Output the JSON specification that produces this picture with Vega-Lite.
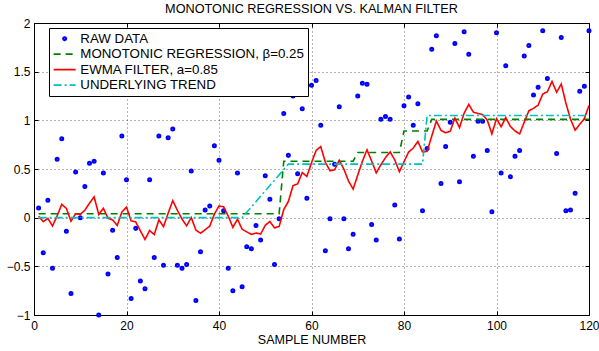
{
  "$schema": "https://vega.github.io/schema/vega-lite/v6.json",
  "width": 555,
  "height": 292,
  "autosize": "none",
  "padding": {"left": 34, "top": 23, "right": 10, "bottom": 36},
  "background": "white",
  "title": {"text": "MONOTONIC REGRESSION VS. KALMAN FILTER", "fontSize": 12.7, "fontWeight": "normal", "font": "Liberation Sans", "color": "black", "offset": 1, "anchor": "middle", "frame": "group"},
  "config": {
    "font": "Liberation Sans",
    "view": {"stroke": "black", "strokeWidth": 1},
    "axis": {"labelFont": "Liberation Sans", "labelFontSize": 12, "labelColor": "black", "domainColor": "black", "tickColor": "black", "gridColor": "#000", "gridDash": [1, 3], "gridOpacity": 0.6, "titleFont": "Liberation Sans", "titleFontWeight": "normal", "titleFontSize": 12.5, "titleColor": "black"}
  },
  "datasets": {
    "raw": [
      {"x":1,"y":0.10,"series":"RAW DATA"},{"x":2,"y":-0.36,"series":"RAW DATA"},{"x":3,"y":0.18,"series":"RAW DATA"},{"x":4,"y":-0.52,"series":"RAW DATA"},{"x":5,"y":0.60,"series":"RAW DATA"},
      {"x":6,"y":0.81,"series":"RAW DATA"},{"x":7,"y":-0.14,"series":"RAW DATA"},{"x":8,"y":-0.78,"series":"RAW DATA"},{"x":9,"y":0.47,"series":"RAW DATA"},{"x":10,"y":0.00,"series":"RAW DATA"},
      {"x":11,"y":0.32,"series":"RAW DATA"},{"x":12,"y":0.56,"series":"RAW DATA"},{"x":13,"y":0.58,"series":"RAW DATA"},{"x":14,"y":-1.00,"series":"RAW DATA"},{"x":15,"y":0.46,"series":"RAW DATA"},
      {"x":16,"y":-0.58,"series":"RAW DATA"},{"x":17,"y":-0.13,"series":"RAW DATA"},{"x":18,"y":-0.41,"series":"RAW DATA"},{"x":19,"y":0.84,"series":"RAW DATA"},{"x":20,"y":0.39,"series":"RAW DATA"},
      {"x":21,"y":-0.83,"series":"RAW DATA"},{"x":22,"y":-0.11,"series":"RAW DATA"},{"x":23,"y":-0.65,"series":"RAW DATA"},{"x":24,"y":-0.73,"series":"RAW DATA"},{"x":25,"y":0.39,"series":"RAW DATA"},
      {"x":26,"y":-0.41,"series":"RAW DATA"},{"x":27,"y":0.84,"series":"RAW DATA"},{"x":28,"y":-0.49,"series":"RAW DATA"},{"x":29,"y":0.82,"series":"RAW DATA"},{"x":30,"y":0.91,"series":"RAW DATA"},
      {"x":31,"y":-0.49,"series":"RAW DATA"},{"x":32,"y":-0.52,"series":"RAW DATA"},{"x":33,"y":-0.48,"series":"RAW DATA"},{"x":34,"y":0.48,"series":"RAW DATA"},{"x":35,"y":-0.85,"series":"RAW DATA"},
      {"x":36,"y":-0.35,"series":"RAW DATA"},{"x":37,"y":0.08,"series":"RAW DATA"},{"x":38,"y":0.12,"series":"RAW DATA"},{"x":39,"y":0.74,"series":"RAW DATA"},{"x":40,"y":0.59,"series":"RAW DATA"},
      {"x":41,"y":0.07,"series":"RAW DATA"},{"x":42,"y":-0.52,"series":"RAW DATA"},{"x":43,"y":-0.75,"series":"RAW DATA"},{"x":44,"y":0.46,"series":"RAW DATA"},{"x":45,"y":-0.71,"series":"RAW DATA"},
      {"x":46,"y":-0.30,"series":"RAW DATA"},{"x":47,"y":-0.32,"series":"RAW DATA"},{"x":48,"y":-0.08,"series":"RAW DATA"},{"x":49,"y":-0.23,"series":"RAW DATA"},{"x":50,"y":0.43,"series":"RAW DATA"},
      {"x":51,"y":0.19,"series":"RAW DATA"},{"x":52,"y":-0.48,"series":"RAW DATA"},{"x":53,"y":-0.01,"series":"RAW DATA"},{"x":54,"y":1.07,"series":"RAW DATA"},{"x":55,"y":0.64,"series":"RAW DATA"},
      {"x":56,"y":1.25,"series":"RAW DATA"},{"x":57,"y":0.45,"series":"RAW DATA"},{"x":58,"y":1.12,"series":"RAW DATA"},{"x":59,"y":0.20,"series":"RAW DATA"},{"x":60,"y":1.36,"series":"RAW DATA"},
      {"x":61,"y":1.41,"series":"RAW DATA"},{"x":62,"y":0.95,"series":"RAW DATA"},{"x":63,"y":-0.34,"series":"RAW DATA"},{"x":64,"y":-0.01,"series":"RAW DATA"},{"x":65,"y":0.55,"series":"RAW DATA"},
      {"x":66,"y":1.14,"series":"RAW DATA"},{"x":67,"y":-0.01,"series":"RAW DATA"},{"x":68,"y":-0.32,"series":"RAW DATA"},{"x":69,"y":-0.17,"series":"RAW DATA"},{"x":70,"y":1.25,"series":"RAW DATA"},
      {"x":71,"y":1.38,"series":"RAW DATA"},{"x":72,"y":1.37,"series":"RAW DATA"},{"x":73,"y":-0.07,"series":"RAW DATA"},{"x":74,"y":-0.23,"series":"RAW DATA"},{"x":75,"y":1.01,"series":"RAW DATA"},
      {"x":76,"y":1.04,"series":"RAW DATA"},{"x":77,"y":1.01,"series":"RAW DATA"},{"x":78,"y":0.13,"series":"RAW DATA"},{"x":79,"y":-0.22,"series":"RAW DATA"},{"x":80,"y":1.15,"series":"RAW DATA"},
      {"x":81,"y":1.24,"series":"RAW DATA"},{"x":82,"y":0.95,"series":"RAW DATA"},{"x":83,"y":1.17,"series":"RAW DATA"},{"x":84,"y":0.07,"series":"RAW DATA"},{"x":85,"y":0.71,"series":"RAW DATA"},
      {"x":86,"y":1.73,"series":"RAW DATA"},{"x":87,"y":1.87,"series":"RAW DATA"},{"x":88,"y":0.35,"series":"RAW DATA"},{"x":89,"y":0.73,"series":"RAW DATA"},{"x":90,"y":0.98,"series":"RAW DATA"},
      {"x":91,"y":1.79,"series":"RAW DATA"},{"x":92,"y":0.37,"series":"RAW DATA"},{"x":93,"y":1.91,"series":"RAW DATA"},{"x":94,"y":1.68,"series":"RAW DATA"},{"x":95,"y":0.63,"series":"RAW DATA"},
      {"x":96,"y":0.99,"series":"RAW DATA"},{"x":97,"y":0.99,"series":"RAW DATA"},{"x":98,"y":0.69,"series":"RAW DATA"},{"x":99,"y":0.06,"series":"RAW DATA"},{"x":100,"y":1.90,"series":"RAW DATA"},
      {"x":101,"y":0.46,"series":"RAW DATA"},{"x":102,"y":1.56,"series":"RAW DATA"},{"x":103,"y":0.42,"series":"RAW DATA"},{"x":104,"y":0.63,"series":"RAW DATA"},{"x":105,"y":0.69,"series":"RAW DATA"},
      {"x":106,"y":1.66,"series":"RAW DATA"},{"x":107,"y":1.77,"series":"RAW DATA"},{"x":108,"y":1.26,"series":"RAW DATA"},{"x":109,"y":1.34,"series":"RAW DATA"},{"x":110,"y":1.92,"series":"RAW DATA"},
      {"x":111,"y":1.43,"series":"RAW DATA"},{"x":113,"y":0.66,"series":"RAW DATA"},{"x":114,"y":1.85,"series":"RAW DATA"},{"x":115,"y":0.07,"series":"RAW DATA"},
      {"x":116,"y":0.08,"series":"RAW DATA"},{"x":117,"y":0.25,"series":"RAW DATA"},{"x":118,"y":1.30,"series":"RAW DATA"},{"x":119,"y":1.35,"series":"RAW DATA"},{"x":120,"y":1.92,"series":"RAW DATA"}
    ],
    "mono": [
      {"x":1,"y":0.04,"series":"MONOTONIC REGRESSION, β=0.25"},{"x":53,"y":0.04,"series":"MONOTONIC REGRESSION, β=0.25"},
      {"x":54,"y":0.58,"series":"MONOTONIC REGRESSION, β=0.25"},{"x":69,"y":0.58,"series":"MONOTONIC REGRESSION, β=0.25"},
      {"x":70,"y":0.67,"series":"MONOTONIC REGRESSION, β=0.25"},{"x":79,"y":0.67,"series":"MONOTONIC REGRESSION, β=0.25"},
      {"x":80,"y":0.89,"series":"MONOTONIC REGRESSION, β=0.25"},{"x":85,"y":0.89,"series":"MONOTONIC REGRESSION, β=0.25"},
      {"x":86,"y":1.01,"series":"MONOTONIC REGRESSION, β=0.25"},{"x":120,"y":1.01,"series":"MONOTONIC REGRESSION, β=0.25"}
    ],
    "ewma": [
      {"x":1,"y":0.015,"series":"EWMA FILTER, a=0.85"},{"x":2,"y":-0.041,"series":"EWMA FILTER, a=0.85"},{"x":3,"y":-0.008,"series":"EWMA FILTER, a=0.85"},{"x":4,"y":-0.085,"series":"EWMA FILTER, a=0.85"},{"x":5,"y":0.018,"series":"EWMA FILTER, a=0.85"},
      {"x":6,"y":0.137,"series":"EWMA FILTER, a=0.85"},{"x":7,"y":0.095,"series":"EWMA FILTER, a=0.85"},{"x":8,"y":-0.036,"series":"EWMA FILTER, a=0.85"},{"x":9,"y":0.040,"series":"EWMA FILTER, a=0.85"},{"x":10,"y":0.034,"series":"EWMA FILTER, a=0.85"},
      {"x":11,"y":0.077,"series":"EWMA FILTER, a=0.85"},{"x":12,"y":0.149,"series":"EWMA FILTER, a=0.85"},{"x":13,"y":0.214,"series":"EWMA FILTER, a=0.85"},{"x":14,"y":0.032,"series":"EWMA FILTER, a=0.85"},{"x":15,"y":0.096,"series":"EWMA FILTER, a=0.85"},
      {"x":16,"y":-0.005,"series":"EWMA FILTER, a=0.85"},{"x":17,"y":-0.024,"series":"EWMA FILTER, a=0.85"},{"x":18,"y":-0.080,"series":"EWMA FILTER, a=0.85"},{"x":19,"y":0.058,"series":"EWMA FILTER, a=0.85"},{"x":20,"y":0.108,"series":"EWMA FILTER, a=0.85"},
      {"x":21,"y":-0.033,"series":"EWMA FILTER, a=0.85"},{"x":22,"y":-0.044,"series":"EWMA FILTER, a=0.85"},{"x":23,"y":-0.135,"series":"EWMA FILTER, a=0.85"},{"x":24,"y":-0.224,"series":"EWMA FILTER, a=0.85"},{"x":25,"y":-0.132,"series":"EWMA FILTER, a=0.85"},
      {"x":26,"y":-0.174,"series":"EWMA FILTER, a=0.85"},{"x":27,"y":-0.022,"series":"EWMA FILTER, a=0.85"},{"x":28,"y":-0.092,"series":"EWMA FILTER, a=0.85"},{"x":29,"y":0.045,"series":"EWMA FILTER, a=0.85"},{"x":30,"y":0.175,"series":"EWMA FILTER, a=0.85"},
      {"x":31,"y":0.075,"series":"EWMA FILTER, a=0.85"},{"x":32,"y":-0.014,"series":"EWMA FILTER, a=0.85"},{"x":33,"y":-0.084,"series":"EWMA FILTER, a=0.85"},{"x":34,"y":0.001,"series":"EWMA FILTER, a=0.85"},{"x":35,"y":-0.127,"series":"EWMA FILTER, a=0.85"},
      {"x":36,"y":-0.160,"series":"EWMA FILTER, a=0.85"},{"x":37,"y":-0.124,"series":"EWMA FILTER, a=0.85"},{"x":38,"y":-0.087,"series":"EWMA FILTER, a=0.85"},{"x":39,"y":0.037,"series":"EWMA FILTER, a=0.85"},{"x":40,"y":0.120,"series":"EWMA FILTER, a=0.85"},
      {"x":41,"y":0.112,"series":"EWMA FILTER, a=0.85"},{"x":42,"y":0.016,"series":"EWMA FILTER, a=0.85"},{"x":43,"y":-0.099,"series":"EWMA FILTER, a=0.85"},{"x":44,"y":-0.015,"series":"EWMA FILTER, a=0.85"},{"x":45,"y":-0.119,"series":"EWMA FILTER, a=0.85"},
      {"x":46,"y":-0.146,"series":"EWMA FILTER, a=0.85"},{"x":47,"y":-0.172,"series":"EWMA FILTER, a=0.85"},{"x":48,"y":-0.158,"series":"EWMA FILTER, a=0.85"},{"x":49,"y":-0.169,"series":"EWMA FILTER, a=0.85"},{"x":50,"y":-0.079,"series":"EWMA FILTER, a=0.85"},
      {"x":51,"y":-0.039,"series":"EWMA FILTER, a=0.85"},{"x":52,"y":-0.105,"series":"EWMA FILTER, a=0.85"},{"x":53,"y":-0.091,"series":"EWMA FILTER, a=0.85"},{"x":54,"y":0.083,"series":"EWMA FILTER, a=0.85"},{"x":55,"y":0.167,"series":"EWMA FILTER, a=0.85"},
      {"x":56,"y":0.329,"series":"EWMA FILTER, a=0.85"},{"x":57,"y":0.347,"series":"EWMA FILTER, a=0.85"},{"x":58,"y":0.463,"series":"EWMA FILTER, a=0.85"},{"x":59,"y":0.424,"series":"EWMA FILTER, a=0.85"},{"x":60,"y":0.564,"series":"EWMA FILTER, a=0.85"},
      {"x":61,"y":0.691,"series":"EWMA FILTER, a=0.85"},{"x":62,"y":0.730,"series":"EWMA FILTER, a=0.85"},{"x":63,"y":0.569,"series":"EWMA FILTER, a=0.85"},{"x":64,"y":0.482,"series":"EWMA FILTER, a=0.85"},{"x":65,"y":0.492,"series":"EWMA FILTER, a=0.85"},
      {"x":66,"y":0.589,"series":"EWMA FILTER, a=0.85"},{"x":67,"y":0.499,"series":"EWMA FILTER, a=0.85"},{"x":68,"y":0.376,"series":"EWMA FILTER, a=0.85"},{"x":69,"y":0.294,"series":"EWMA FILTER, a=0.85"},{"x":70,"y":0.437,"series":"EWMA FILTER, a=0.85"},
      {"x":71,"y":0.579,"series":"EWMA FILTER, a=0.85"},{"x":72,"y":0.697,"series":"EWMA FILTER, a=0.85"},{"x":73,"y":0.582,"series":"EWMA FILTER, a=0.85"},{"x":74,"y":0.460,"series":"EWMA FILTER, a=0.85"},{"x":75,"y":0.543,"series":"EWMA FILTER, a=0.85"},
      {"x":76,"y":0.617,"series":"EWMA FILTER, a=0.85"},{"x":77,"y":0.676,"series":"EWMA FILTER, a=0.85"},{"x":78,"y":0.594,"series":"EWMA FILTER, a=0.85"},{"x":79,"y":0.472,"series":"EWMA FILTER, a=0.85"},{"x":80,"y":0.574,"series":"EWMA FILTER, a=0.85"},
      {"x":81,"y":0.674,"series":"EWMA FILTER, a=0.85"},{"x":82,"y":0.715,"series":"EWMA FILTER, a=0.85"},{"x":83,"y":0.783,"series":"EWMA FILTER, a=0.85"},{"x":84,"y":0.676,"series":"EWMA FILTER, a=0.85"},{"x":85,"y":0.681,"series":"EWMA FILTER, a=0.85"},
      {"x":86,"y":0.838,"series":"EWMA FILTER, a=0.85"},{"x":87,"y":0.993,"series":"EWMA FILTER, a=0.85"},{"x":88,"y":0.897,"series":"EWMA FILTER, a=0.85"},{"x":89,"y":0.872,"series":"EWMA FILTER, a=0.85"},{"x":90,"y":0.888,"series":"EWMA FILTER, a=0.85"},
      {"x":91,"y":1.023,"series":"EWMA FILTER, a=0.85"},{"x":92,"y":0.925,"series":"EWMA FILTER, a=0.85"},{"x":93,"y":1.073,"series":"EWMA FILTER, a=0.85"},{"x":94,"y":1.164,"series":"EWMA FILTER, a=0.85"},{"x":95,"y":1.084,"series":"EWMA FILTER, a=0.85"},
      {"x":96,"y":1.070,"series":"EWMA FILTER, a=0.85"},{"x":97,"y":1.058,"series":"EWMA FILTER, a=0.85"},{"x":98,"y":1.003,"series":"EWMA FILTER, a=0.85"},{"x":99,"y":0.861,"series":"EWMA FILTER, a=0.85"},{"x":100,"y":1.017,"series":"EWMA FILTER, a=0.85"},
      {"x":101,"y":0.934,"series":"EWMA FILTER, a=0.85"},{"x":102,"y":1.028,"series":"EWMA FILTER, a=0.85"},{"x":103,"y":0.937,"series":"EWMA FILTER, a=0.85"},{"x":104,"y":0.891,"series":"EWMA FILTER, a=0.85"},{"x":105,"y":0.861,"series":"EWMA FILTER, a=0.85"},
      {"x":106,"y":0.981,"series":"EWMA FILTER, a=0.85"},{"x":107,"y":1.099,"series":"EWMA FILTER, a=0.85"},{"x":108,"y":1.123,"series":"EWMA FILTER, a=0.85"},{"x":109,"y":1.156,"series":"EWMA FILTER, a=0.85"},{"x":110,"y":1.270,"series":"EWMA FILTER, a=0.85"},
      {"x":111,"y":1.294,"series":"EWMA FILTER, a=0.85"},{"x":112,"y":1.400,"series":"EWMA FILTER, a=0.85"},{"x":113,"y":1.289,"series":"EWMA FILTER, a=0.85"},{"x":114,"y":1.373,"series":"EWMA FILTER, a=0.85"},{"x":115,"y":1.178,"series":"EWMA FILTER, a=0.85"},
      {"x":116,"y":1.013,"series":"EWMA FILTER, a=0.85"},{"x":117,"y":0.899,"series":"EWMA FILTER, a=0.85"},{"x":118,"y":0.959,"series":"EWMA FILTER, a=0.85"},{"x":119,"y":1.018,"series":"EWMA FILTER, a=0.85"},{"x":120,"y":1.153,"series":"EWMA FILTER, a=0.85"}
    ],
    "trend": [
      {"x":1,"y":0,"series":"UNDERLYING TREND"},{"x":45,"y":0,"series":"UNDERLYING TREND"},{"x":55,"y":0.55,"series":"UNDERLYING TREND"},
      {"x":84,"y":0.55,"series":"UNDERLYING TREND"},{"x":85,"y":1.05,"series":"UNDERLYING TREND"},{"x":120,"y":1.05,"series":"UNDERLYING TREND"}
    ]
  },
  "layer": [
    {
      "data": {"name": "raw"},
      "mark": {"type": "point", "filled": false, "size": 121, "opacity": 1, "strokeWidth": 1.6},
      "encoding": {
        "x": {"field": "x", "type": "quantitative", "scale": {"domain": [0, 120], "nice": false, "zero": false},
              "axis": {"values": [0,20,40,60,80,100,120], "title": "SAMPLE NUMBER", "grid": true, "tickSize": -4, "labelPadding": 9, "titlePadding": 2, "domain": false, "labelFlush": false}},
        "y": {"field": "y", "type": "quantitative", "scale": {"domain": [-1, 2], "nice": false, "zero": false},
              "axis": {"values": [-1,-0.5,0,0.5,1,1.5,2], "format": "~g", "title": null, "grid": true, "tickSize": -4, "labelPadding": 8, "domain": false, "labelFlush": false}},
        "color": {"field": "series", "type": "nominal",
                  "scale": {"domain": ["RAW DATA", "MONOTONIC REGRESSION, β=0.25", "EWMA FILTER, a=0.85", "UNDERLYING TREND"], "range": ["#0000ff", "#008000", "#ff0000", "#00bfbf"]},
                  "legend": {"title": null, "orient": "none", "legendX": 15, "legendY": 5, "strokeColor": "black", "fillColor": "white", "padding": 4, "rowPadding": 1.5, "cornerRadius": 0,
                             "labelFont": "Liberation Sans", "labelFontSize": 13.3, "labelColor": "black", "labelLimit": 400, "labelOffset": 9, "symbolSize": 121, "symbolOffset": 5, "symbolStrokeWidth": 1.6}},
        "shape": {"field": "series", "type": "nominal",
                  "scale": {"domain": ["RAW DATA", "MONOTONIC REGRESSION, β=0.25", "EWMA FILTER, a=0.85", "UNDERLYING TREND"],
                            "range": ["M-0.31,0A0.31,0.31 0 1,0 0.31,0A0.31,0.31 0 1,0 -0.31,0M-0.09,0A0.09,0.09 0 1,0 0.09,0A0.09,0.09 0 1,0 -0.09,0", "M-2,0H2", "M-2,0H2", "M-2,0H2"]}}
      }
    },
    {
      "data": {"name": "mono"},
      "mark": {"type": "line", "strokeWidth": 1.6},
      "encoding": {
        "x": {"field": "x", "type": "quantitative", "axis": {"orient": "top", "values": [0,20,40,60,80,100,120], "labels": false, "grid": false, "tickSize": -4, "title": null, "domain": false}},
        "y": {"field": "y", "type": "quantitative", "axis": {"orient": "right", "values": [-1,-0.5,0,0.5,1,1.5,2], "labels": false, "grid": false, "tickSize": -4, "title": null, "domain": false}},
        "color": {"field": "series", "type": "nominal"},
        "strokeDash": {"field": "series", "type": "nominal",
                       "scale": {"domain": ["RAW DATA", "MONOTONIC REGRESSION, β=0.25", "EWMA FILTER, a=0.85", "UNDERLYING TREND"], "range": [[1, 0], [7, 5], [1, 0], [8, 3, 2, 3]]}}
      }
    },
    {
      "data": {"name": "ewma"},
      "mark": {"type": "line", "strokeWidth": 1.6},
      "encoding": {
        "x": {"field": "x", "type": "quantitative", "axis": null},
        "y": {"field": "y", "type": "quantitative", "axis": null},
        "color": {"field": "series", "type": "nominal"},
        "strokeDash": {"field": "series", "type": "nominal"}
      }
    },
    {
      "data": {"name": "trend"},
      "mark": {"type": "line", "strokeWidth": 1.6},
      "encoding": {
        "x": {"field": "x", "type": "quantitative", "axis": null},
        "y": {"field": "y", "type": "quantitative", "axis": null},
        "color": {"field": "series", "type": "nominal"},
        "strokeDash": {"field": "series", "type": "nominal"}
      }
    }
  ],
  "resolve": {"axis": {"x": "independent", "y": "independent"}}
}
